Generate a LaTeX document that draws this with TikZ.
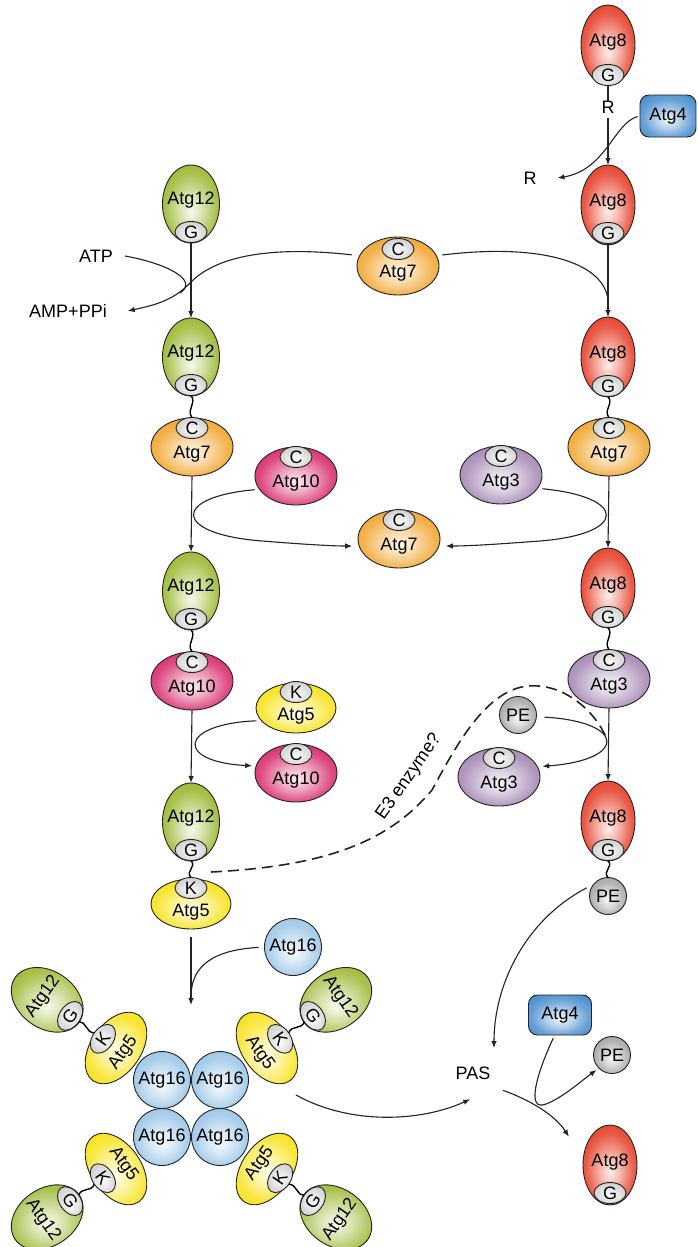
\documentclass[tikz,border=0pt]{standalone}
\usepackage{fontspec}
\setmainfont{Liberation Sans}
\usetikzlibrary{shapes.geometric,arrows.meta}
\definecolor{lc}{RGB}{35,35,35}
\definecolor{cG}{RGB}{150,180,38}
\definecolor{cR}{RGB}{228,52,28}
\definecolor{cO}{RGB}{240,160,35}
\definecolor{cM}{RGB}{214,30,100}
\definecolor{cP}{RGB}{160,128,175}
\definecolor{cY}{RGB}{246,224,10}
\definecolor{cB}{RGB}{150,195,230}
\definecolor{cAf}{RGB}{70,140,205}
\definecolor{cPE}{RGB}{160,160,160}
\definecolor{cS}{RGB}{205,205,205}
\makeatletter
\pgfdeclareradialshading[tikz@ball]{soft}{\pgfpoint{0bp}{-5bp}}{color(0bp)=(tikz@ball!8!white); color(10bp)=(tikz@ball!38!white); color(22bp)=(tikz@ball!80!white); color(33bp)=(tikz@ball); color(45bp)=(tikz@ball!93!black); color(50bp)=(tikz@ball!85!black)}
\makeatother
\begin{document}
\begin{tikzpicture}[x=1pt,y=-1pt,
  every node/.style={font=\fontsize{18}{21}\selectfont},
  shd/.style={ball color=#1, shading=soft},
  mol/.style={ellipse, draw=lc, line width=0.9pt, inner sep=0pt, outer sep=0pt},
  a12/.style={mol, shd=cG, minimum width=57pt, minimum height=78pt},
  a8/.style={mol, shd=cR, minimum width=54pt, minimum height=80pt},
  enz/.style={mol, minimum width=82pt, minimum height=58pt},
  a7/.style={enz, shd=cO},
  a10/.style={enz, shd=cM},
  a3/.style={enz, shd=cP},
  a5/.style={mol, shd=cY, minimum width=80pt, minimum height=50pt},
  site/.style={mol, shd=cS, minimum width=32pt, minimum height=21pt},
  rnd/.style={circle, draw=lc, line width=0.9pt, inner sep=0pt, outer sep=0pt},
  pe/.style={rnd, shd=cPE, minimum size=37pt},
  a16/.style={rnd, shd=cB, minimum size=57pt},
  a4/.style={rectangle, rounded corners=9pt, draw=lc, line width=0.9pt, shd=cAf, minimum width=56pt, minimum height=42pt, inner sep=0pt},
  lbl/.style={inner sep=0pt, outer sep=0pt},
  ln/.style={line width=1.1pt, draw=lc},
  arr/.style={ln, -{Latex[length=7pt,width=5.5pt]}},
  sq/.style={line width=1.4pt, draw=black},
  dsh/.style={line width=1.6pt, draw=lc, dash pattern=on 11pt off 6pt}]
\fill[white] (0,0) rectangle (697,1247);
\useasboundingbox (0,0) rectangle (697,1247);

% ---------- right column ----------
\node[a8] (A8a) at (608,45) {};
\node[lbl] (A8aL) at (608,42) {Atg8};
\node[site] (G8a) at (608,75) {G};
\node[lbl] (R1) at (608,107) {R};
\node[a4] (A4a) at (668,116) {Atg4};
\node[lbl] (R2) at (530,178) {R};
\node[a8] (A8b) at (608,205) {};
\node[lbl] (A8bL) at (608,202) {Atg8};
\node[site] (G8b) at (608,233) {G};
\node[a8] (A8c) at (608,357) {};
\node[lbl] (A8cL) at (608,354) {Atg8};
\node[site] (G8c) at (608,386) {G};
\node[a7] (E7c) at (609,447) {};
\node[site] (C7c) at (609,428) {C};
\node[lbl] (E7cL) at (609,454) {Atg7};
\node[a8] (A8d) at (608,588) {};
\node[lbl] (A8dL) at (608,585) {Atg8};
\node[site] (G8d) at (608,617) {G};
\node[a3] (E3c) at (609,679) {};
\node[site] (C3c) at (609,660) {C};
\node[lbl] (E3cL) at (609,686) {Atg3};
\node[a8] (A8e) at (608,821) {};
\node[lbl] (A8eL) at (608,818) {Atg8};
\node[site] (G8e) at (608,850) {G};
\node[pe] (PE2) at (608,896) {PE};

% ---------- left column ----------
\node[a12] (A12a) at (191,204) {};
\node[lbl] (A12aL) at (191,200) {Atg12};
\node[site] (G12a) at (191,232) {G};
\node[lbl] (ATP) at (96,256) {ATP};
\node[lbl] (AMP) at (68,311) {AMP+PPi};
\node[a12] (A12b) at (191,357) {};
\node[lbl] (A12bL) at (191,353) {Atg12};
\node[site] (G12b) at (191,385) {G};
\node[a7] (E7b) at (192,447) {};
\node[site] (C7b) at (192,428) {C};
\node[lbl] (E7bL) at (192,454) {Atg7};
\node[a12] (A12c) at (191,591) {};
\node[lbl] (A12cL) at (191,587) {Atg12};
\node[site] (G12c) at (191,619) {G};
\node[a10] (E10b) at (192,681) {};
\node[site] (C10b) at (192,662) {C};
\node[lbl] (E10bL) at (192,688) {Atg10};
\node[a12] (A12d) at (191,822) {};
\node[lbl] (A12dL) at (191,818) {Atg12};
\node[site] (G12d) at (191,850) {G};
\node[a5] (E5d) at (191,904) {};
\node[site] (K5d) at (191,888) {K};
\node[lbl] (E5dL) at (191,912) {Atg5};

% ---------- middle ----------
\node[a7] (E7a) at (398,266) {};
\node[site] (C7a) at (398,249) {C};
\node[lbl] (E7aL) at (398,273) {Atg7};
\node[a10] (E10a) at (296,476) {};
\node[site] (C10a) at (296,457) {C};
\node[lbl] (E10aL) at (296,483) {Atg10};
\node[a3] (E3a) at (501,475) {};
\node[site] (C3a) at (501,456) {C};
\node[lbl] (E3aL) at (501,482) {Atg3};
\node[a7] (E7m) at (399,539) {};
\node[site] (C7m) at (399,520) {C};
\node[lbl] (E7mL) at (399,546) {Atg7};
\node[a5] (E5a) at (296,708) {};
\node[site] (K5a) at (296,692) {K};
\node[lbl] (E5aL) at (296,716) {Atg5};
\node[a10] (E10m) at (296,773) {};
\node[site] (C10m) at (296,754) {C};
\node[lbl] (E10mL) at (296,780) {Atg10};
\node[pe] (PE1) at (518,715) {PE};
\node[a3] (E3m) at (499,777) {};
\node[site] (C3m) at (499,758) {C};
\node[lbl] (E3mL) at (499,784) {Atg3};
\node[a16] (A16s) at (293,947) {Atg16};
\node[lbl, rotate=55] (E3L) at (409,777) {E3 enzyme?};

% ---------- bottom right ----------
\node[lbl, minimum width=60pt, minimum height=50pt] (PAS) at (473,1073) {PAS};
\node[a4, minimum width=63pt, minimum height=40pt] (A4b) at (560,1015) {Atg4};
\node[pe] (PE3) at (612,1055) {PE};
\node[a8] (A8f) at (610,1165) {};
\node[lbl] (A8fL) at (610,1162) {Atg8};
\node[site] (G8f) at (610,1193) {G};

% ---------- complex ----------
\begin{scope}[shift={(116,1048)}, rotate=55, transform shape]
 \node[a12] (TLa12) at (0,-84) {};
 \node[lbl] (TLa12L) at (0,-89) {Atg12};
 \node[site] (TLg) at (0,-56) {G};
 \node[a5] (TLa5) at (0,0) {};
 \node[site] (TLk) at (0,-16) {K};
 \node[lbl] (TLa5L) at (0,9) {Atg5};
 \draw[sq] (TLg.south) .. controls +(5,7) and +(-5,-7) .. (TLk.north);
\end{scope}
\begin{scope}[shift={(267,1048)}, rotate=-55, transform shape]
 \node[a12] (TRa12) at (0,-84) {};
 \node[lbl] (TRa12L) at (0,-89) {Atg12};
 \node[site] (TRg) at (0,-56) {G};
 \node[a5] (TRa5) at (0,0) {};
 \node[site] (TRk) at (0,-16) {K};
 \node[lbl] (TRa5L) at (0,9) {Atg5};
 \draw[sq] (TRg.south) .. controls +(5,7) and +(-5,-7) .. (TRk.north);
\end{scope}
\begin{scope}[shift={(116,1169)}, rotate=-55, transform shape]
 \node[a12] (BLa12) at (0,84) {};
 \node[lbl] (BLa12L) at (0,89) {Atg12};
 \node[site] (BLg) at (0,56) {G};
 \node[a5] (BLa5) at (0,0) {};
 \node[site] (BLk) at (0,16) {K};
 \node[lbl] (BLa5L) at (0,-9) {Atg5};
 \draw[sq] (BLk.south) .. controls +(5,7) and +(-5,-7) .. (BLg.north);
\end{scope}
\begin{scope}[shift={(267,1169)}, rotate=55, transform shape]
 \node[a12] (BRa12) at (0,84) {};
 \node[lbl] (BRa12L) at (0,89) {Atg12};
 \node[site] (BRg) at (0,56) {G};
 \node[a5] (BRa5) at (0,0) {};
 \node[site] (BRk) at (0,16) {K};
 \node[lbl] (BRa5L) at (0,-9) {Atg5};
 \draw[sq] (BRk.south) .. controls +(5,7) and +(-5,-7) .. (BRg.north);
\end{scope}
\node[a16] (c1) at (162,1080) {Atg16};
\node[a16] (c2) at (220,1080) {Atg16};
\node[a16] (c3) at (162,1137) {Atg16};
\node[a16] (c4) at (220,1137) {Atg16};

% ---------- coordinates ----------
\coordinate (m1) at (608,300);
\coordinate (cx) at (191,1005);
\coordinate (j16) at (191,995);
\coordinate (e3s) at (211,872);
\coordinate (pej) at (606,737);
\coordinate (cxo) at (296,1095);

% ---------- squiggles ----------
\draw[sq] (G12b.south) .. controls +(6,7) and +(-6,-7) .. (C7b.north);
\draw[sq] (G12c.south) .. controls +(6,7) and +(-6,-7) .. (C10b.north);
\draw[sq] (G12d.south) .. controls +(6,7) and +(-6,-7) .. (K5d.north);
\draw[sq] (G8c.south) .. controls +(6,7) and +(-6,-7) .. (C7c.north);
\draw[sq] (G8d.south) .. controls +(6,7) and +(-6,-7) .. (C3c.north);
\draw[sq] (G8e.south) .. controls +(6,7) and +(-6,-7) .. (PE2.north);

% ---------- connectors ----------
\draw[ln] (G8a.south) -- (R1.north);
\draw[arr, shorten <=5pt] (R1.south) -- (A8b.north);
\draw[arr, shorten <=2pt] (A4a.west) .. controls (614,123) and (606,170) .. ([xshift=21]R2.east);
\draw[arr] (G8b.south) -- (A8c.north);
\draw[arr] (E7c.south) -- (A8d.north);
\draw[arr] (E3c.south) -- (A8e.north);

\draw[arr] (G12a.south) -- (A12b.north);
\draw[arr] (E7b.south) -- (A12c.north);
\draw[arr] (E10b.south) -- (A12d.north);
\draw[arr, shorten <=8pt] (E5d.south) -- (cx);

\draw[ln] ([xshift=12]ATP.east) .. controls (165,263) and (200,280) .. (180,293);
\draw[arr, shorten <=8pt] (E7a.165) .. controls (255,244) and (210,262) .. (190,283) .. controls (172,302) and (150,306) .. ([xshift=21]AMP.east);
\draw[ln, shorten <=6pt] (E7a.15) .. controls (540,243) and (604,262) .. (m1);

\draw[arr, shorten <=5pt, shorten >=7pt] (E10a.200) .. controls (172,497) and (172,534) .. (262,541) .. controls (300,544) and (330,546) .. (E7m.190);
\draw[arr, shorten <=5pt, shorten >=7pt] (E3a.-20) .. controls (628,497) and (628,534) .. (540,541) .. controls (500,544) and (470,546) .. (E7m.-10);
\draw[arr, shorten <=5pt, shorten >=4pt] (E5a.200) .. controls (178,724) and (175,762) .. (E10m.170);
\draw[arr, shorten <=8pt, shorten >=5pt] (PE1.-5) .. controls (627,722) and (627,760) .. (E3m.15);

\draw[dsh] (e3s) .. controls (330,866) and (390,840) .. (432,790) .. controls (455,748) and (485,690) .. (528,686) .. controls (565,683) and (595,712) .. (pej);

\draw[ln, shorten <=6pt] (A16s.west) .. controls (214,950) and (192,965) .. (j16);

\draw[arr, shorten <=8pt] (PE2.140) .. controls (525,920) and (494,985) .. (PAS.50);
\draw[arr, shorten >=3pt] (cxo) .. controls (350,1125) and (420,1122) .. (PAS.south);
\draw[arr] (PAS.-30) .. controls (530,1100) and (555,1115) .. ([xshift=-22]A8f.north west);
\draw[arr, shorten <=3pt, shorten >=3pt] (A4b.255) .. controls (536,1075) and (526,1112) .. (546,1104) .. controls (562,1098) and (580,1082) .. (PE3.225);
\end{tikzpicture}
\end{document}
